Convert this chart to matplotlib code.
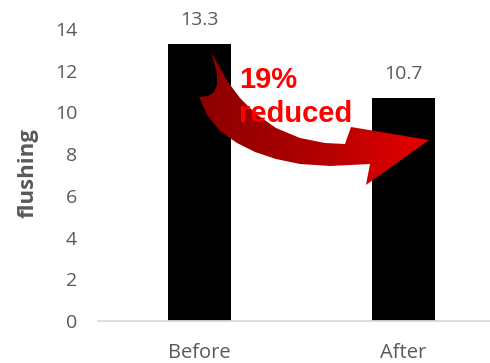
import matplotlib.pyplot as plt
import numpy as np
from matplotlib.patches import Polygon
from matplotlib.colors import LinearSegmentedColormap

categories = ['Before', 'After']
values = [13.3, 10.7]
yticks = [0, 2, 4, 6, 8, 10, 12, 14]
ylabel = 'flushing'
change_lines = ['19%', 'reduced']

# outline of the curved red arrow, in image pixels (x right, y down)
arrow_px = [(211, 52), (219, 66), (228, 82), (240, 98), (256, 114), (276, 128),
            (300, 138), (325, 143), (345, 144), (351, 127), (429, 140),
            (366, 185), (370, 164), (350, 165), (330, 166), (300, 164),
            (276, 159), (255, 152), (237, 143), (220, 131), (207, 115),
            (199, 97), (208, 96), (214, 92), (217, 85), (217, 74), (214, 62)]

W, H = 490, 363
grey = '#595959'

fig = plt.figure(figsize=(W / 100, H / 100), dpi=100)
ax = fig.add_axes([98 / W, 42 / H, 407 / W, 292 / H])

x = np.arange(len(categories))
ax.bar(x, values, width=0.31, color='black', zorder=2)
for xi, v in zip(x, values):
    ax.annotate('{:.1f}'.format(v), (xi, v), xytext=(0, 17), textcoords='offset points',
                ha='center', va='center', fontsize=14, color=grey, family='Open Sans')

ax.set_xlim(-0.5, 1.5)
ax.set_ylim(0, 14)
ax.set_xticks(x)
ax.set_xticklabels(categories, fontsize=14.5, color=grey, family='Open Sans')
ax.set_yticks(yticks)
ax.set_yticklabels([str(t) for t in yticks], fontsize=14, color=grey, family='Open Sans')
ax.tick_params(axis='y', length=0, pad=15)
ax.tick_params(axis='x', length=0, pad=16)
for s in ['top', 'right', 'left']:
    ax.spines[s].set_visible(False)
ax.spines['bottom'].set_color('#d9d9d9')
ax.spines['bottom'].set_linewidth(1.3)

ax.set_ylabel(ylabel, fontsize=16, fontweight='bold', color=grey, family='Open Sans')
ax.yaxis.set_label_coords(-0.147, 0.507)

# arrow: polygon filled with a dark-to-bright red gradient
pts = np.array([(px, H - py) for px, py in arrow_px], dtype=float)
pts = ax.transData.inverted().transform(pts)
poly = Polygon(pts, closed=True, facecolor='none', edgecolor='none', transform=ax.transData, zorder=3)
ax.add_patch(poly)
cmap = LinearSegmentedColormap.from_list('reds', ['#8a0000', '#b00000', '#e60000'])
grad = np.linspace(0, 1, 256)[None, :]
im = ax.imshow(grad, extent=[pts[:, 0].min(), pts[:, 0].max(), pts[:, 1].min(), pts[:, 1].max()],
               aspect='auto', cmap=cmap, zorder=3, interpolation='bilinear')
im.set_clip_path(poly)
ax.set_xlim(-0.5, 1.5)
ax.set_ylim(0, 14)

fig.text(239 / W, 1 - 88 / H, change_lines[0], color='#ff0000', fontsize=21,
         fontweight='bold', family='Liberation Sans', va='baseline', ha='left', zorder=5)
fig.text(239 / W, 1 - 122 / H, change_lines[1], color='#ff0000', fontsize=21,
         fontweight='bold', family='Liberation Sans', va='baseline', ha='left', zorder=5)

fig.savefig('out.png', dpi=100)
